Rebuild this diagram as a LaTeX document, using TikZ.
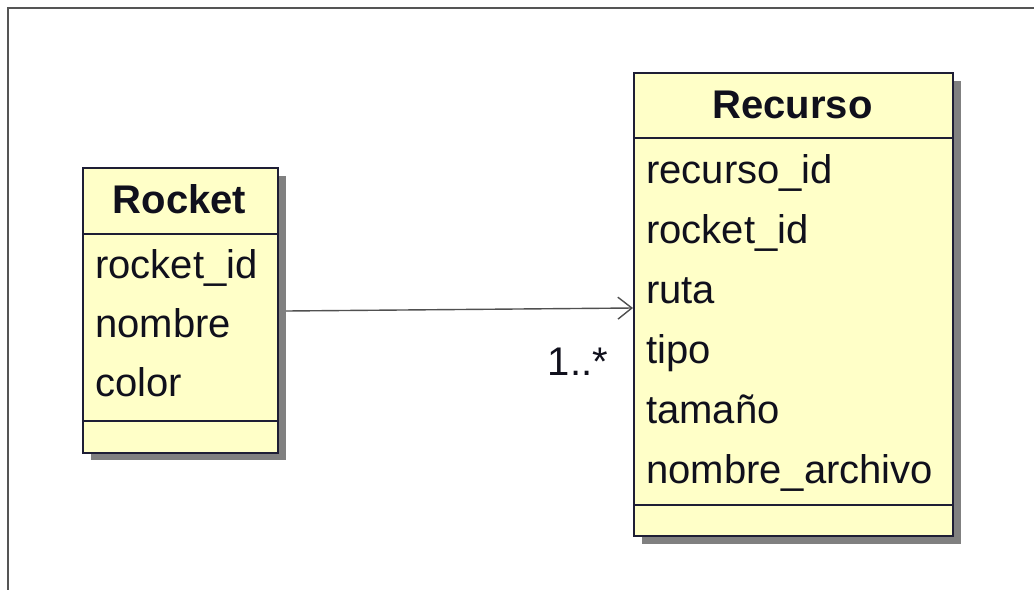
\documentclass[tikz,border=0pt]{standalone}
\usepackage{fontspec}
\setmainfont{Liberation Sans}
\usetikzlibrary{arrows.meta}
\definecolor{classfill}{HTML}{FFFFC8}
\definecolor{classline}{HTML}{1E1E35}
\definecolor{textink}{HTML}{10101C}
\definecolor{shadowgray}{HTML}{808080}
\definecolor{framegray}{HTML}{555555}
\definecolor{linkgray}{HTML}{505050}
\tikzset{
  classbox/.style={draw=classline, line width=1.6pt, fill=classfill},
  shadowbox/.style={fill=shadowgray, draw=none},
  title/.style={font=\fontsize{40}{40}\selectfont\bfseries, text=textink, anchor=base, inner sep=0pt},
  attr/.style={font=\fontsize{40}{40}\selectfont, text=textink, anchor=base west, inner sep=0pt},
  divider/.style={draw=classline, line width=1.6pt},
  assoc/.style={draw=linkgray, line width=1.4pt, -{Straight Barb[length=14pt, width=22pt, line width=1.4pt]}},
}
\begin{document}
\begin{tikzpicture}[x=1pt, y=-1pt]
  \useasboundingbox (0,0) rectangle (1034,590);
  % outer frame (top and left edges)
  \draw[framegray, line width=1.2pt] (1034,8) -- (8,8) -- (8,590);

  % ---- Rocket class ----
  \fill[shadowbox] (91,176) rectangle (286,460);
  \node[classbox, minimum width=195pt, minimum height=285pt, anchor=north west, inner sep=0pt] (rocket) at (82,167) {};
  \draw[divider] (82,234) -- (277,234);
  \draw[divider] (82,421) -- (277,421);
  \node[title] (rocketT) at (179.5,213) {Rocket};
  \node[attr] (r1) at (95,278) {rocket\_id};
  \node[attr] (r2) at (95,337) {nombre};
  \node[attr] (r3) at (95,396) {color};

  % ---- Recurso class ----
  \fill[shadowbox] (642,81) rectangle (961,544);
  \node[classbox, minimum width=319pt, minimum height=463pt, anchor=north west, inner sep=0pt] (recurso) at (633,72) {};
  \draw[divider] (633,138) -- (952,138);
  \draw[divider] (633,505) -- (952,505);
  \node[title] (recursoT) at (792.5,118) {Recurso};
  \node[attr] (c1) at (646,183) {recurso\_id};
  \node[attr] (c2) at (646,243) {rocket\_id};
  \node[attr] (c3) at (646,303) {ruta};
  \node[attr] (c4) at (646,363) {tipo};
  \node[attr] (c5) at (646,423) {tamaño};
  \node[attr] (c6) at (646,483) {nombre\_archivo};

  % ---- association ----
  \coordinate (from) at (286,311);
  \coordinate (to) at (recurso.west |- 0,308);
  \draw[assoc] (from) -- (to);
  \node[attr, anchor=base east] (mult) at (608,375) {1..*};
\end{tikzpicture}
\end{document}
